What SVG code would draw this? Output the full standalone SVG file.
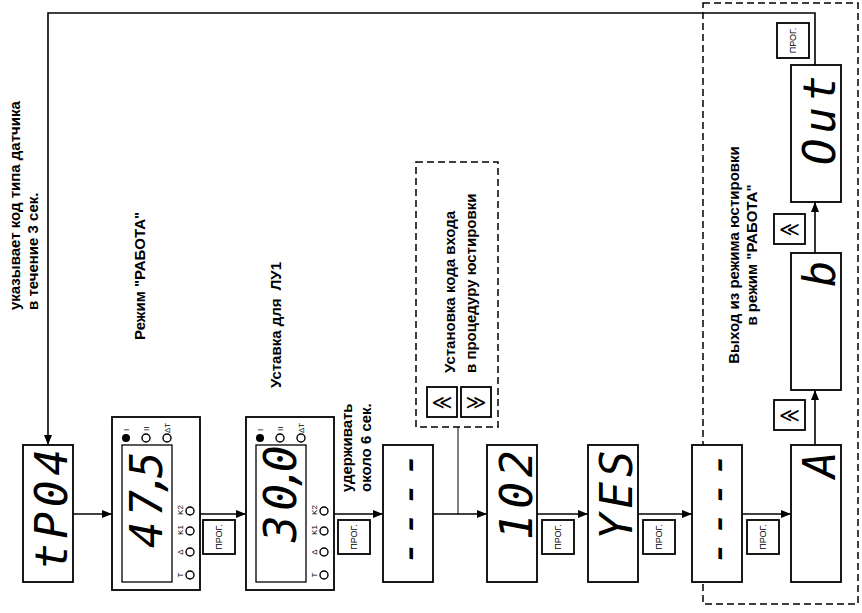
<svg xmlns="http://www.w3.org/2000/svg" width="862" height="613" viewBox="0 0 862 613">
<defs>
<marker id="ah" markerUnits="userSpaceOnUse" markerWidth="10" markerHeight="8" refX="10" refY="4" orient="auto" viewBox="0 0 10 8"><path d="M0,0 L10,4 L0,8 Z" fill="#000"/></marker>
</defs>
<style>
.box{fill:#fff;stroke:#000;stroke-width:1.8}
.in{fill:none;stroke:#000;stroke-width:1.3}
.dbox{fill:none;stroke:#000;stroke-width:1.5;stroke-dasharray:7 4}
.ln{fill:none;stroke:#000;stroke-width:1.6}
.thin{fill:none;stroke:#000;stroke-width:1}
.lbl{font-family:"Liberation Sans",Arial,sans-serif;font-weight:bold;font-size:15px;fill:#000}
.seg{font-family:"DejaVu Sans Mono",monospace;font-style:italic;font-size:44px;letter-spacing:5px;fill:#000}
.dsh{font-family:"DejaVu Sans Mono",monospace;font-style:italic;font-size:44px;letter-spacing:3px;fill:#000}
.pg{font-family:"Liberation Sans",Arial,sans-serif;font-size:9px;text-anchor:middle;fill:#000}
.sm{font-family:"Liberation Sans",Arial,sans-serif;font-size:8px;fill:#000}
.smc{font-family:"Liberation Sans",Arial,sans-serif;font-size:8px;text-anchor:middle;fill:#000}
.led{fill:#fff;stroke:#000;stroke-width:1.4}
.btn{font-family:"DejaVu Sans",sans-serif;font-size:20px;text-anchor:middle;fill:#000}
.mid{text-anchor:middle}
</style>
<rect x="0" y="0" width="862" height="613" fill="#fff"/>

<g id="groups">
<rect class="dbox" x="416" y="162" width="82" height="265"/>
<rect class="dbox" x="703" y="3" width="155" height="601"/>
</g>

<g id="connectors">
<path class="ln" d="M815,65 V13 H48 V445" marker-end="url(#ah)"/>
<path class="ln" d="M73,514 H112" marker-end="url(#ah)"/>
<path class="ln" d="M200,514 H246" marker-end="url(#ah)"/>
<path class="ln" d="M334,514 H383" marker-end="url(#ah)"/>
<path class="ln" d="M433,514 H487" marker-end="url(#ah)"/>
<path class="ln" d="M537,514 H588" marker-end="url(#ah)"/>
<path class="ln" d="M638,514 H692" marker-end="url(#ah)"/>
<path class="ln" d="M742,514 H791" marker-end="url(#ah)"/>
<path class="ln" d="M815,445 V390" marker-end="url(#ah)"/>
<path class="ln" d="M815,253 V202" marker-end="url(#ah)"/>
<path class="thin" d="M458,427 V514"/>
</g>

<g id="labels">
<text class="lbl" transform="translate(20,310) rotate(-90)">указывает код типа датчика</text>
<text class="lbl" transform="translate(38,310) rotate(-90)">в течение 3 сек.</text>
<text class="lbl" transform="translate(145,340) rotate(-90)">Режим "РАБОТА"</text>
<text class="lbl" transform="translate(281,388) rotate(-90)">Уставка для&#160; ЛУ1</text>
<text class="lbl" transform="translate(352,492) rotate(-90)">удерживать</text>
<text class="lbl" transform="translate(371,492) rotate(-90)">около 6 сек.</text>
<text class="lbl" transform="translate(455,373) rotate(-90)">Установка кода входа</text>
<text class="lbl" transform="translate(476,373) rotate(-90)">в процедуру юстировки</text>
<text class="lbl mid" transform="translate(739,255) rotate(-90)">Выход из режима юстировки</text>
<text class="lbl mid" transform="translate(757,255) rotate(-90)">в режим "РАБОТА"</text>
</g>

<g id="n-tp04">
<rect class="box" x="23" y="445" width="50" height="137"/>
<text class="seg" transform="translate(67,570) rotate(-90)">tP04</text>
</g>

<g id="n-work">
<rect class="box" x="112" y="417" width="88" height="173"/>
<rect class="in" x="122" y="445" width="50" height="137"/>
<text class="seg" transform="translate(162,548) rotate(-90)">47<tspan dx="-11">,</tspan><tspan dx="-13.5">5</tspan></text>
<circle cx="126" cy="438" r="4" fill="#000"/>
<circle class="led" cx="146" cy="438" r="4"/>
<circle class="led" cx="167" cy="438" r="4"/>
<text class="sm" transform="translate(129,431) rotate(-90)">I</text>
<text class="sm" transform="translate(149,431) rotate(-90)">II</text>
<text class="sm" transform="translate(170,433) rotate(-90)">ΔT</text>
<circle class="led" cx="190" cy="511" r="4"/>
<circle class="led" cx="190" cy="531" r="4"/>
<circle class="led" cx="190" cy="552" r="4"/>
<circle class="led" cx="190" cy="575" r="4"/>
<text class="smc" transform="translate(183,510) rotate(-90)">K2</text>
<text class="smc" transform="translate(183,530) rotate(-90)">K1</text>
<text class="smc" transform="translate(183,552) rotate(-90)">Δ</text>
<text class="smc" transform="translate(183,575) rotate(-90)">T</text>
</g>

<g id="n-setpoint">
<rect class="box" x="246" y="417" width="88" height="173"/>
<rect class="in" x="256" y="445" width="50" height="137"/>
<text class="seg" transform="translate(296,542) rotate(-90)">30<tspan dx="-11">,</tspan><tspan dx="-13.5">0</tspan></text>
<circle cx="260" cy="438" r="4" fill="#000"/>
<circle class="led" cx="280" cy="438" r="4"/>
<circle class="led" cx="301" cy="438" r="4"/>
<text class="sm" transform="translate(263,431) rotate(-90)">I</text>
<text class="sm" transform="translate(283,431) rotate(-90)">II</text>
<text class="sm" transform="translate(304,433) rotate(-90)">ΔT</text>
<circle class="led" cx="324" cy="511" r="4"/>
<circle class="led" cx="324" cy="531" r="4"/>
<circle class="led" cx="324" cy="552" r="4"/>
<circle class="led" cx="324" cy="575" r="4"/>
<text class="smc" transform="translate(317,510) rotate(-90)">K2</text>
<text class="smc" transform="translate(317,530) rotate(-90)">K1</text>
<text class="smc" transform="translate(317,552) rotate(-90)">Δ</text>
<text class="smc" transform="translate(317,575) rotate(-90)">T</text>
</g>

<g id="n-dash1">
<rect class="box" x="383" y="445" width="50" height="137"/>
<text class="dsh" transform="translate(423,566) rotate(-90)">----</text>
</g>

<g id="n-keys">
<rect class="box" x="427" y="387" width="30" height="30"/>
<text class="btn" x="442" y="409">≪</text>
<rect class="box" x="461" y="387" width="30" height="30"/>
<text class="btn" x="476" y="409">≫</text>
</g>

<g id="n-102">
<rect class="box" x="487" y="445" width="50" height="137"/>
<text class="seg" transform="translate(532,540) rotate(-90)">102</text>
</g>

<g id="n-yes">
<rect class="box" x="588" y="445" width="50" height="137"/>
<text class="seg" transform="translate(632,540) rotate(-90)">YES</text>
</g>

<g id="n-dash2">
<rect class="box" x="692" y="445" width="50" height="137"/>
<text class="dsh" transform="translate(732,566) rotate(-90)">----</text>
</g>

<g id="n-a">
<rect class="box" x="791" y="445" width="50" height="137"/>
<text class="seg" transform="translate(835,478) rotate(-90)">A</text>
</g>

<g id="n-b">
<rect class="box" x="791" y="253" width="50" height="137"/>
<text class="seg" transform="translate(835,287) rotate(-90)">b</text>
</g>

<g id="n-out">
<rect class="box" x="791" y="65" width="50" height="137"/>
<text class="seg" transform="translate(835,165) rotate(-90)">Out</text>
</g>

<g id="n-btn1">
<rect class="box" x="774" y="400" width="31" height="30"/>
<text class="btn" x="789.5" y="422">≪</text>
</g>
<g id="n-btn2">
<rect class="box" x="774" y="214" width="31" height="30"/>
<text class="btn" x="789.5" y="236">≪</text>
</g>

<g id="n-prog1"><rect class="box" x="203" y="520" width="32" height="34"/><text class="pg" transform="translate(222,537) rotate(-90)">ПРОГ.</text></g>
<g id="n-prog2"><rect class="box" x="338" y="520" width="32" height="34"/><text class="pg" transform="translate(357,537) rotate(-90)">ПРОГ.</text></g>
<g id="n-prog3"><rect class="box" x="542" y="520" width="32" height="34"/><text class="pg" transform="translate(561,537) rotate(-90)">ПРОГ.</text></g>
<g id="n-prog4"><rect class="box" x="643" y="520" width="32" height="34"/><text class="pg" transform="translate(662,537) rotate(-90)">ПРОГ.</text></g>
<g id="n-prog5"><rect class="box" x="747" y="520" width="32" height="34"/><text class="pg" transform="translate(766,537) rotate(-90)">ПРОГ.</text></g>
<g id="n-prog6"><rect class="box" x="777" y="23" width="32" height="35"/><text class="pg" transform="translate(796,40.5) rotate(-90)">ПРОГ.</text></g>
</svg>
